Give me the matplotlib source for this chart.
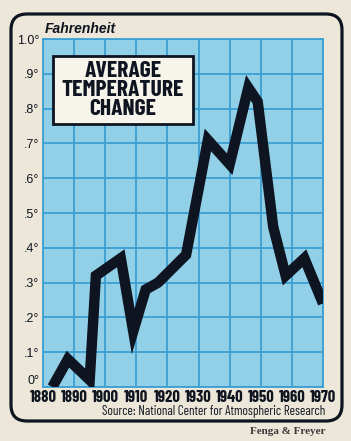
import matplotlib
matplotlib.use("Agg")
import matplotlib.pyplot as plt
from matplotlib.patches import FancyBboxPatch, Rectangle
from matplotlib.transforms import IdentityTransform

# data (year, degrees F)
years = [1883, 1888, 1895, 1897, 1905, 1909, 1913, 1917, 1926, 1933, 1940, 1946, 1949, 1954, 1958, 1964, 1970]
temps = [0.0, 0.08, 0.02, 0.32, 0.37, 0.16, 0.28, 0.30, 0.38, 0.71, 0.64, 0.86, 0.82, 0.46, 0.32, 0.37, 0.24]

x_ticks = [1880, 1890, 1900, 1910, 1920, 1930, 1940, 1950, 1960, 1970]
y_ticks = [0.0, 0.1, 0.2, 0.3, 0.4, 0.5, 0.6, 0.7, 0.8, 0.9, 1.0]
y_labels = ["0°", ".1°", ".2°", ".3°", ".4°", ".5°", ".6°", ".7°", ".8°", ".9°", "1.0°"]

paper = "#ece7d8"
grid_fill = "#92d0e7"
grid_line = "#3b9fd4"
ink = "#0e1420"
narrow = ["Barlow Condensed", "DejaVu Sans"]
sans = ["Liberation Sans", "DejaVu Sans"]

W, H = 351, 441
fig = plt.figure(figsize=(W / 100, H / 100), dpi=100)
fig.patch.set_facecolor(paper)

# rounded outer frame, in pixels
frame = FancyBboxPatch((11, H - 421), 331, 407,
                       boxstyle="round,pad=0,rounding_size=16",
                       transform=IdentityTransform(), facecolor="none",
                       edgecolor=ink, linewidth=2.3)
fig.patches.append(frame)

ax = fig.add_axes([43 / W, (H - 387) / H, 280 / W, 348 / H])
ax.set_facecolor(grid_fill)
ax.plot(years, temps, color=ink, linewidth=7.5, solid_joinstyle="miter",
        solid_capstyle="butt", zorder=3)

ax.set_xlim(1880, 1970)
ax.set_ylim(0, 1.0)
ax.set_xticks(x_ticks)
ax.set_xticklabels([str(t) for t in x_ticks], family=narrow, fontsize=12,
                   fontweight="bold", color=ink)
ax.set_yticks(y_ticks)
ax.set_yticklabels(y_labels, family=sans, fontsize=9, color=ink)
ax.get_yticklabels()[0].set_va("bottom")
ax.tick_params(length=0)
ax.tick_params(axis="y", pad=2.5)
ax.tick_params(axis="x", pad=2.5)
ax.grid(True, color=grid_line, linewidth=1.3, zorder=1)
ax.set_axisbelow(True)
for s in ax.spines.values():
    s.set_color(grid_line)
    s.set_linewidth(1.3)

# title box
ax.add_patch(Rectangle((0.035, 0.757), 0.5, 0.195, transform=ax.transAxes,
                       facecolor="#f7f4ec", edgecolor=ink, linewidth=2, zorder=4))
ax.text(0.285, 0.853, "AVERAGE\nTEMPERATURE\nCHANGE", transform=ax.transAxes,
        ha="center", va="center", family=narrow, fontsize=17,
        fontweight="bold", color=ink, linespacing=0.92, zorder=5)

fig.text(45 / W, 1 - 29 / H, "Fahrenheit", ha="left", va="center", family=sans,
         fontsize=10, fontstyle="italic", fontweight="bold", color=ink)
fig.text(325 / W, 1 - 411 / H, "Source: National Center for Atmospheric Research",
         ha="right", va="center", family=narrow, fontsize=9.5, color=ink)
fig.text(326 / W, 1 - 432 / H, "Fenga & Freyer", ha="right", va="center",
         family=["Liberation Serif", "DejaVu Serif"], fontsize=8, fontweight="bold",
         color="#3a3a3a")

fig.savefig("out.png", dpi=100, facecolor=paper)
